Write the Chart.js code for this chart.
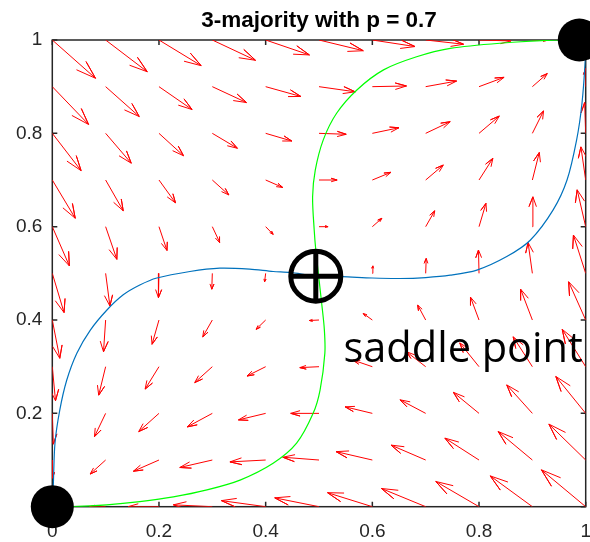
<!DOCTYPE html>
<html>
<head>
<meta charset="utf-8">
<script src="https://cdn.jsdelivr.net/npm/chart.js@4.4.1/dist/chart.umd.min.js"></script>
<style>
    html, body { margin: 0; padding: 0; background: #fff; }
    #quiver { display: block; }
</style>
</head>
<body>
<canvas id="quiver" width="590" height="542"></canvas>
<script>
// sample grid of the field
const gridX = [0, 0.1, 0.2, 0.3, 0.4, 0.5, 0.6, 0.7, 0.8, 0.9, 1];
const gridY = [0, 0.1, 0.2, 0.3, 0.4, 0.5, 0.6, 0.7, 0.8, 0.9, 1];

// drift components, one row per gridY value (bottom row first)
const U = [
    [0, -0.030, -0.058, -0.073, -0.083, -0.083, -0.084, -0.083, -0.081, -0.079, -0.083],
    [0, -0.029, -0.048, -0.061, -0.067, -0.068, -0.068, -0.065, -0.064, -0.064, -0.069],
    [0.002, -0.021, -0.038, -0.047, -0.051, -0.053, -0.051, -0.048, -0.048, -0.048, -0.056],
    [0.006, -0.013, -0.026, -0.033, -0.035, -0.036, -0.036, -0.036, -0.036, -0.036, -0.044],
    [0.014, -0.004, -0.013, -0.018, -0.018, -0.018, -0.017, -0.015, -0.016, -0.022, -0.032],
    [0.022, 0.008, -0.001, -0.001, -0.002, 0, 0.001, 0.001, -0.001, -0.008, -0.023],
    [0.032, 0.021, 0.015, 0.014, 0.014, 0.017, 0.018, 0.017, 0.013, 0.001, -0.016],
    [0.043, 0.033, 0.031, 0.031, 0.032, 0.034, 0.035, 0.033, 0.026, 0.013, -0.009],
    [0.054, 0.048, 0.046, 0.047, 0.049, 0.051, 0.050, 0.046, 0.038, 0.021, -0.002],
    [0.068, 0.063, 0.062, 0.064, 0.066, 0.068, 0.064, 0.058, 0.047, 0.028, 0],
    [0.081, 0.078, 0.079, 0.081, 0.082, 0.083, 0.080, 0.071, 0.060, 0.030, 0]
];
const V = [
    [0, 0, 0, 0.004, 0.013, 0.019, 0.030, 0.039, 0.054, 0.066, 0.079],
    [-0.039, -0.030, -0.024, -0.016, -0.004, 0.006, 0.018, 0.032, 0.047, 0.061, 0.077],
    [-0.066, -0.050, -0.039, -0.029, -0.014, 0, 0.014, 0.029, 0.045, 0.061, 0.079],
    [-0.073, -0.061, -0.048, -0.034, -0.020, -0.002, 0.014, 0.032, 0.051, 0.064, 0.080],
    [-0.082, -0.068, -0.052, -0.036, -0.020, -0.001, 0.014, 0.032, 0.049, 0.066, 0.082],
    [-0.084, -0.070, -0.052, -0.034, -0.018, 0, 0.016, 0.032, 0.050, 0.066, 0.082],
    [-0.084, -0.070, -0.051, -0.034, -0.0165, 0, 0.018, 0.034, 0.050, 0.064, 0.079],
    [-0.082, -0.066, -0.049, -0.032, -0.016, 0, 0.0165, 0.032, 0.0465, 0.059, 0.071],
    [-0.080, -0.064, -0.048, -0.032, -0.0165, -0.002, 0.012, 0.025, 0.037, 0.048, 0.066],
    [-0.081, -0.064, -0.049, -0.034, -0.021, -0.011, 0.0015, 0.012, 0.020, 0.028, 0.039],
    [-0.082, -0.068, -0.055, -0.0435, -0.032, -0.023, -0.014, -0.009, -0.002, 0, 0]
];

// separatrices through the saddle
const blueX = [0, 0.002, 0.005, 0.014, 0.027, 0.046, 0.071, 0.102, 0.133, 0.164, 0.196, 0.258, 0.314, 0.37, 0.414, 0.446, 0.494,
    0.543, 0.60, 0.652, 0.70, 0.746, 0.796, 0.852, 0.896, 0.939, 0.965, 0.983, 0.993, 0.999, 1];
const blueY = [0, 0.05, 0.136, 0.207, 0.271, 0.329, 0.378, 0.421, 0.454, 0.475, 0.490, 0.504, 0.511, 0.509, 0.504, 0.502, 0.494,
    0.493, 0.49, 0.489, 0.491, 0.496, 0.507, 0.536, 0.571, 0.636, 0.70, 0.786, 0.864, 0.954, 1];
const greenX = [0, 0.039, 0.102, 0.164, 0.227, 0.290, 0.352, 0.414, 0.458, 0.489, 0.502, 0.511, 0.510, 0.505, 0.494,
    0.491, 0.488, 0.493, 0.508, 0.533, 0.571, 0.621, 0.683, 0.746, 0.839, 0.948, 0.988];
const greenY = [0, 0, 0.004, 0.011, 0.021, 0.036, 0.057, 0.093, 0.136, 0.20, 0.25, 0.329, 0.38, 0.436, 0.55,
    0.593, 0.664, 0.721, 0.786, 0.843, 0.893, 0.936, 0.964, 0.982, 0.993, 1.0, 1.0];

// fixed points
const stableX = [0, 0.988];
const stableY = [0, 1];
const saddleX = [0.494];
const saddleY = [0.494];

const tickValues = [0, 0.2, 0.4, 0.6, 0.8, 1];
const tickLabels = ['0', '0.2', '0.4', '0.6', '0.8', '1'];

const note = { text: 'saddle point', x: 0.546, y: 0.311 };

// quiver-style arrow: shaft, then two barbs back from the tip
const HEAD_LEN = 0.33, HEAD_WIDTH = 0.33;
function arrowPoints() {
    const pts = [];
    gridY.forEach((y, j) => gridX.forEach((x, i) => {
        const u = U[j][i], v = V[j][i];
        if (u === 0 && v === 0) return;
        const tx = x + u, ty = y + v;
        pts.push(
            { x, y },
            { x: tx, y: ty },
            { x: tx - HEAD_LEN * (u + HEAD_WIDTH * v), y: ty - HEAD_LEN * (v - HEAD_WIDTH * u) },
            { x: tx, y: ty },
            { x: tx - HEAD_LEN * (u - HEAD_WIDTH * v), y: ty - HEAD_LEN * (v + HEAD_WIDTH * u) },
            { x: tx, y: null }
        );
    }));
    return pts;
}

const zip = (xs, ys) => xs.map((x, i) => ({ x, y: ys[i] }));

// box with inward ticks on all four sides, plus the text note
const framePlugin = {
    id: 'frame',
    beforeDatasetsDraw(chart) {
        const { ctx, chartArea: a, scales: { x, y } } = chart;
        ctx.save();
        ctx.strokeStyle = '#262626';
        ctx.lineWidth = 1.5;
        ctx.strokeRect(a.left, a.top, a.right - a.left, a.bottom - a.top);
        ctx.beginPath();
        tickValues.forEach(t => {
            const px = x.getPixelForValue(t), py = y.getPixelForValue(t);
            ctx.moveTo(px, a.bottom); ctx.lineTo(px, a.bottom - 5);
            ctx.moveTo(px, a.top); ctx.lineTo(px, a.top + 5);
            ctx.moveTo(a.left, py); ctx.lineTo(a.left + 5, py);
            ctx.moveTo(a.right, py); ctx.lineTo(a.right - 5, py);
        });
        ctx.stroke();
        ctx.restore();
    },
    afterDraw(chart) {
        const { ctx, scales: { x, y } } = chart;
        ctx.save();
        ctx.font = '41.5px "Open Sans"';
        ctx.fillStyle = '#000';
        ctx.textBaseline = 'alphabetic';
        ctx.fillText(note.text, x.getPixelForValue(note.x), y.getPixelForValue(note.y));
        ctx.restore();
    }
};

const tickFont = { family: 'Liberation Sans', size: 19 };

function draw() {
    new Chart(document.getElementById('quiver'), {
        type: 'scatter',
        data: {
            datasets: [
                {
                    data: zip(stableX, stableY), order: 0, clip: false,
                    pointRadius: 21.5, pointBackgroundColor: '#000', pointBorderWidth: 0, showLine: false
                },
                {
                    data: zip(saddleX, saddleY), order: 1, clip: false, pointStyle: 'cross',
                    pointRadius: 26, pointBorderColor: '#000', pointBorderWidth: 5, showLine: false
                },
                {
                    data: zip(saddleX, saddleY), order: 2, clip: false, pointStyle: 'circle',
                    pointRadius: 25, pointBorderColor: '#000', pointBackgroundColor: 'rgba(0,0,0,0)',
                    pointBorderWidth: 5, showLine: false
                },
                {
                    data: zip(blueX, blueY), order: 3, showLine: true, tension: 0.3,
                    borderColor: '#0072BD', borderWidth: 1.2, pointRadius: 0
                },
                {
                    data: zip(greenX, greenY), order: 4, showLine: true, tension: 0.3,
                    borderColor: '#00FF00', borderWidth: 1.2, pointRadius: 0
                },
                {
                    data: arrowPoints(), order: 5, showLine: true, spanGaps: false, tension: 0,
                    borderColor: '#FF0000', borderWidth: 1, pointRadius: 0
                }
            ]
        },
        options: {
            responsive: false,
            animation: false,
            events: [],
            layout: { autoPadding: false, padding: { left: 0, right: 4.3, top: 0, bottom: 0 } },
            plugins: {
                legend: { display: false },
                tooltip: { enabled: false },
                title: {
                    display: true,
                    text: '3-majority with p = 0.7',
                    fullSize: false,
                    color: '#000',
                    font: { family: 'Liberation Sans', size: 22.5, weight: 'bold' },
                    padding: { top: 7.5, bottom: 5.5 }
                }
            },
            scales: {
                x: {
                    type: 'linear', min: 0, max: 1,
                    grid: { display: false, drawTicks: false },
                    border: { display: false },
                    afterBuildTicks: s => { s.ticks = tickValues.map(v => ({ value: v })); },
                    ticks: {
                        callback: (v, i) => tickLabels[i], color: '#262626', font: tickFont,
                        padding: 14, maxRotation: 0, autoSkip: false
                    },
                    afterFit: s => { s.height = 35.3; s.paddingLeft = 0; s.paddingRight = 0; }
                },
                y: {
                    type: 'linear', min: 0, max: 1,
                    grid: { display: false, drawTicks: false },
                    border: { display: false },
                    afterBuildTicks: s => { s.ticks = tickValues.map(v => ({ value: v })); },
                    ticks: {
                        callback: (v, i) => tickLabels[i], color: '#262626', font: tickFont,
                        padding: 10, autoSkip: false
                    },
                    afterFit: s => { s.width = 52.3; s.paddingTop = 0; s.paddingBottom = 0; }
                }
            }
        },
        plugins: [framePlugin]
    });
}

Promise.all([
    document.fonts.load('41.5px "Open Sans"'),
    document.fonts.load('19px "Liberation Sans"'),
    document.fonts.load('bold 22.5px "Liberation Sans"')
]).then(draw, draw);
</script>
</body>
</html>
